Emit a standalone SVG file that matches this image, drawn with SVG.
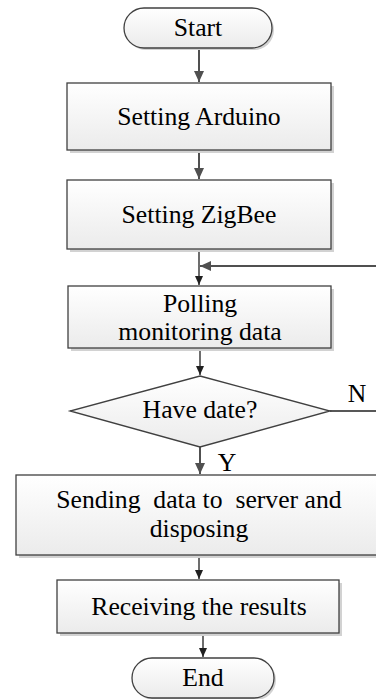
<svg xmlns="http://www.w3.org/2000/svg" width="376" height="699" viewBox="0 0 376 699">
<style>
.shape{fill:url(#g);stroke:#404040;stroke-width:1.3}
.shadow{fill:#d2d2d2}
.t{font-family:'Liberation Serif','Times New Roman',Times,serif;font-size:25.7px;fill:#000;text-anchor:middle}
.c1{stroke:#505050;stroke-width:2;fill:none}
.c2{stroke:#202020;stroke-width:1.3;fill:none}
</style>
<defs>
<linearGradient id="g" x1="0" y1="0" x2="0" y2="1">
<stop offset="0" stop-color="#ffffff"/>
<stop offset="1" stop-color="#ebebeb"/>
</linearGradient>
<marker id="ah1" markerWidth="12" markerHeight="12" refX="11" refY="6" orient="auto" markerUnits="userSpaceOnUse">
<path d="M0,1 L11,6 L0,11 Z" fill="#505050"/>
</marker>
<marker id="ah2" markerWidth="10" markerHeight="10" refX="9" refY="5" orient="auto" markerUnits="userSpaceOnUse">
<path d="M0,1 L9,5 L0,9 Z" fill="#202020"/>
</marker>
</defs>
<g id="connectors">
<line class="c1" x1="199" y1="48" x2="199" y2="82" marker-end="url(#ah1)"/>
<line class="c1" x1="199" y1="150" x2="199" y2="179" marker-end="url(#ah1)"/>
<line class="c2" x1="199" y1="250" x2="199" y2="285" marker-end="url(#ah2)"/>
<line class="c1" x1="376" y1="266" x2="200" y2="266" marker-end="url(#ah1)"/>
<line class="c2" x1="200" y1="348" x2="200" y2="375" marker-end="url(#ah2)"/>
<line class="c2" x1="330" y1="411" x2="376" y2="411"/>
<line class="c1" x1="200" y1="447" x2="200" y2="474" marker-end="url(#ah1)"/>
<line class="c2" x1="199" y1="555" x2="199" y2="579" marker-end="url(#ah2)"/>
<line class="c2" x1="203" y1="633" x2="203" y2="657" marker-end="url(#ah2)"/>
<text class="t" x="357" y="402">N</text>
<text class="t" x="227" y="471">Y</text>
</g>
<g id="start">
<rect class="shadow" x="126" y="10" width="148" height="40" rx="20"/>
<rect class="shape" x="124" y="8" width="148" height="40" rx="20"/>
<text class="t" x="198" y="36">Start</text>
</g>
<g id="setArduino">
<rect class="shadow" x="70" y="86" width="264" height="67"/>
<rect class="shape" x="67" y="83" width="264" height="67"/>
<text class="t" x="199" y="125">Setting Arduino</text>
</g>
<g id="setZigBee">
<rect class="shadow" x="70" y="183" width="264" height="69"/>
<rect class="shape" x="67" y="180" width="264" height="69"/>
<text class="t" x="199" y="223">Setting ZigBee</text>
</g>
<g id="polling">
<rect class="shadow" x="71" y="289" width="263" height="62"/>
<rect class="shape" x="68" y="286" width="263" height="62"/>
<text class="t" x="200" y="312">Polling</text>
<text class="t" x="200" y="340">monitoring data</text>
</g>
<g id="decision">
<polygon class="shape" points="200,376 330,411 200,447 70,411"/>
<text class="t" x="200" y="418">Have date?</text>
</g>
<g id="sending">
<rect class="shadow" x="19" y="478" width="360" height="80"/>
<rect class="shape" x="16" y="475" width="362" height="80"/>
<text class="t" x="199" y="508" xml:space="preserve" style="white-space:pre">Sending  data to  server and</text>
<text class="t" x="199" y="537">disposing</text>
</g>
<g id="receiving">
<rect class="shadow" x="60" y="583" width="282" height="53"/>
<rect class="shape" x="57" y="580" width="282" height="53"/>
<text class="t" x="199" y="615">Receiving the results</text>
</g>
<g id="end">
<rect class="shadow" x="134" y="660" width="142" height="40" rx="20"/>
<rect class="shape" x="132" y="658" width="142" height="40" rx="20"/>
<text class="t" x="203" y="686">End</text>
</g>
</svg>
